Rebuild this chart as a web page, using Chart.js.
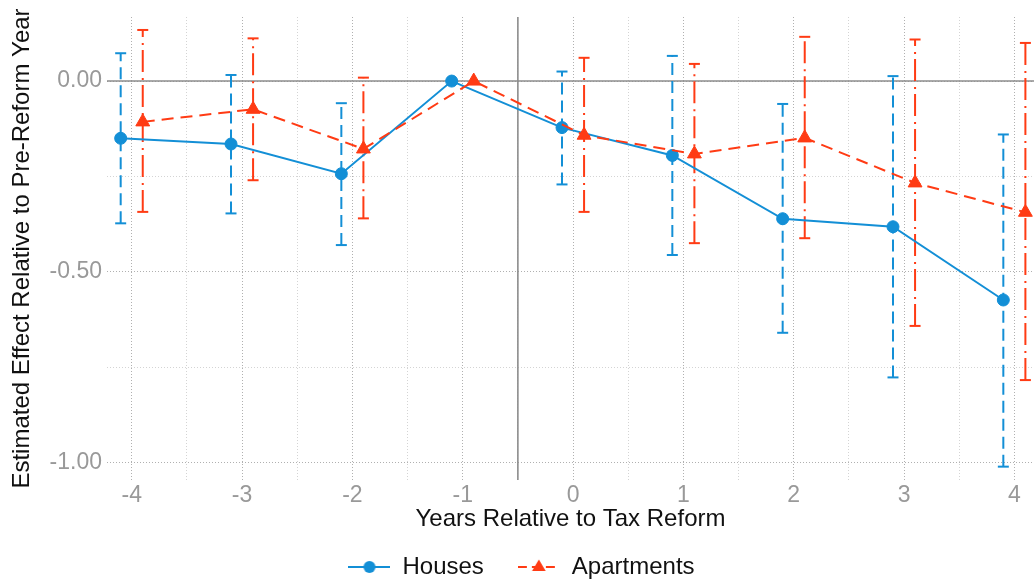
<!DOCTYPE html>
<html><head><meta charset="utf-8">
<script src="https://cdn.jsdelivr.net/npm/chart.js@4.4.1/dist/chart.umd.min.js"></script>
<style>html,body{margin:0;padding:0;background:#fff;overflow:hidden;}canvas{display:block;}</style>
</head><body>
<canvas id="c" width="1043" height="583"></canvas>
<script>
// ---- data ----
const years = [-4, -3, -2, -1, 0, 1, 2, 3, 4];
const housesEst = [-0.150, -0.165, -0.243, 0, -0.122, -0.195, -0.361, -0.382, -0.574];
const housesLo  = [-0.373, -0.347, -0.430, null, -0.271, -0.456, -0.660, -0.777, -1.011];
const housesHi  = [0.073, 0.016, -0.058, null, 0.025, 0.066, -0.060, 0.013, -0.140];
const aptsEst = [-0.107, -0.074, -0.178, 0, -0.142, -0.191, -0.149, -0.267, -0.344];
const aptsLo  = [-0.343, -0.260, -0.360, null, -0.343, -0.425, -0.412, -0.642, -0.784];
const aptsHi  = [0.134, 0.112, 0.009, null, 0.061, 0.045, 0.116, 0.109, 0.100];
const seriesNames = ['Houses', 'Apartments'];
const xTickValues = [-4, -3, -2, -1, 0, 1, 2, 3, 4];
const xTickLabels = ['-4', '-3', '-2', '-1', '0', '1', '2', '3', '4'];
const xMinorValues = [-3.5, -2.5, -1.5, -0.5, 0.5, 1.5, 2.5, 3.5];
const yTickValues = [0, -0.5, -1];
const yTickLabels = ['0.00', '-0.50', '-1.00'];
const yMinorValues = [-0.25, -0.75];
const refH = [0];
const refV = [-0.5];
const xTitle = 'Years Relative to Tax Reform';
const yTitle = 'Estimated Effect Relative to Pre-Reform Year';

// ---- styles ----
const BLUE = '#138fd6', RED = '#ff3b14';
const FONT = "'Liberation Sans', Arial, Helvetica, sans-serif";
const XMIN = -4.224, XMAX = 4.178, YMIN = -1.046, YMAX = 0.168;
const DODGE = 0.1;

function pts(est, off) { return years.map((yr, i) => ({x: yr + off, y: est[i]})); }
function bars(lo, hi, off) {
  const out = [];
  years.forEach((yr, i) => {
    if (lo[i] === null || hi[i] === null) return;
    out.push({x: yr + off, y: lo[i]}, {x: yr + off, y: hi[i]}, {x: yr + off, y: null});
  });
  return out;
}
function legendImg(color, shape, dash) {
  const c = document.createElement('canvas');
  c.width = 42; c.height = 16;
  const g = c.getContext('2d');
  g.strokeStyle = color; g.lineWidth = 2; g.setLineDash(dash);
  g.beginPath(); g.moveTo(0, 8); g.lineTo(42, 8); g.stroke();
  g.setLineDash([]); g.fillStyle = color; g.beginPath();
  if (shape === 'circle') { g.arc(21, 8, 6, 0, Math.PI * 2); }
  else { g.moveTo(21, 0.5); g.lineTo(27.8, 12); g.lineTo(14.2, 12); g.closePath(); }
  g.fill();
  return c;
}
const legendImgs = [legendImg(BLUE, 'circle', []), legendImg(RED, 'triangle', [9, 5])];

const datasets = [
  {label: 'refH', data: [{x: XMIN, y: refH[0]}, {x: XMAX, y: refH[0]}], showLine: true,
   borderColor: '#8c8c8c', borderWidth: 1.6, pointRadius: 0, order: 10},
  {label: 'refV', data: [{x: refV[0], y: YMIN}, {x: refV[0], y: YMAX}], showLine: true,
   borderColor: '#8c8c8c', borderWidth: 1.6, pointRadius: 0, order: 10},
  {label: 'housesCI', data: bars(housesLo, housesHi, -DODGE), showLine: true, spanGaps: false,
   borderColor: BLUE, borderWidth: 2, borderDash: [12, 6],
   pointStyle: 'line', pointRadius: 5.5, pointBorderColor: BLUE, pointBorderWidth: 2, order: 6},
  {label: 'aptsCI', data: bars(aptsLo, aptsHi, DODGE), showLine: true, spanGaps: false,
   borderColor: RED, borderWidth: 2, borderDash: [22, 5, 2, 6],
   pointStyle: 'line', pointRadius: 5.5, pointBorderColor: RED, pointBorderWidth: 2, order: 5},
  {label: seriesNames[0], data: pts(housesEst, -DODGE), showLine: true,
   borderColor: BLUE, borderWidth: 2, pointStyle: 'circle', pointRadius: 6,
   pointBackgroundColor: BLUE, pointBorderColor: BLUE, pointBorderWidth: 1, order: 2},
  {label: seriesNames[1], data: pts(aptsEst, DODGE), showLine: true,
   borderColor: RED, borderWidth: 2, borderDash: [12, 7], pointStyle: 'triangle', pointRadius: 8,
   pointBackgroundColor: RED, pointBorderColor: RED, pointBorderWidth: 1, order: 1}
];

new Chart(document.getElementById('c'), {
  type: 'scatter',
  data: {datasets},
  options: {
    responsive: false, animation: false, devicePixelRatio: 1,
    layout: {padding: {top: 17, right: 0, left: 0, bottom: -6}},
    plugins: {
      tooltip: {enabled: false},
      legend: {
        position: 'bottom',
        labels: {
          usePointStyle: true, pointStyleWidth: 42, padding: 34,
          color: '#111', font: {size: 24, family: FONT},
          generateLabels: () => seriesNames.map((n, i) => ({
            text: n, pointStyle: legendImgs[i], fillStyle: 'transparent', strokeStyle: 'transparent',
            lineWidth: 0, hidden: false, datasetIndex: 4 + i, fontColor: '#111'
          }))
        }
      }
    },
    scales: {
      x: {
        type: 'linear', min: XMIN, max: XMAX, bounds: 'data',
        afterBuildTicks: s => {
          s.ticks = xTickValues.concat(xMinorValues).sort((a, b) => a - b).map(v => ({value: v}));
          s.min = XMIN; s.max = XMAX;
        },
        afterFit: s => { s.height = 41; s.paddingLeft = 0; s.paddingRight = 0; },
        ticks: {
          autoSkip: false, maxRotation: 0, padding: 2, color: '#999', font: {size: 23, family: FONT},
          callback: v => { const k = xTickValues.indexOf(v); return k >= 0 ? xTickLabels[k] : ''; }
        },
        grid: {
          drawTicks: false, lineWidth: 1,
          color: c => (c.tick && xTickValues.includes(c.tick.value)) ? '#b0b0b0' : '#d4d4d4'
        },
        border: {display: false, dash: [1, 2]},
        title: {display: true, text: xTitle, color: '#111', font: {size: 24, family: FONT}, padding: {top: 0, bottom: -13}}
      },
      y: {
        type: 'linear', min: YMIN, max: YMAX, bounds: 'data',
        afterBuildTicks: s => {
          s.ticks = yTickValues.concat(yMinorValues).sort((a, b) => a - b).map(v => ({value: v}));
          s.min = YMIN; s.max = YMAX;
        },
        afterFit: s => { s.width = 107; s.paddingTop = 0; s.paddingBottom = 0; },
        ticks: {
          autoSkip: false, padding: 5, color: '#999', font: {size: 23, family: FONT},
          callback: v => { const k = yTickValues.indexOf(v); return k >= 0 ? yTickLabels[k] : ''; }
        },
        grid: {
          drawTicks: false, lineWidth: 1,
          color: c => (c.tick && yTickValues.includes(c.tick.value)) ? '#b0b0b0' : '#d4d4d4'
        },
        border: {display: false, dash: [1, 2]},
        title: {display: true, text: yTitle, color: '#111', font: {size: 24, family: FONT}, padding: {top: 8, bottom: 0}}
      }
    }
  }
});
</script>
</body></html>
